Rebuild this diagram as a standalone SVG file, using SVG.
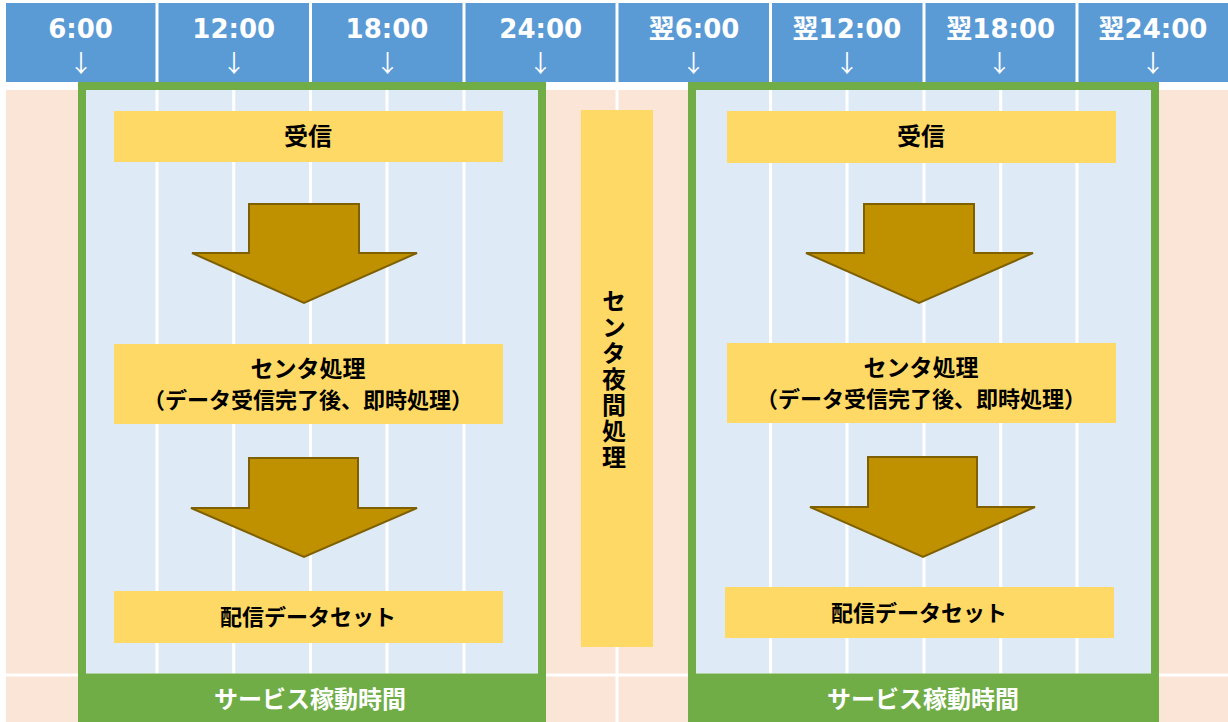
<svg xmlns="http://www.w3.org/2000/svg" width="1228" height="722" viewBox="0 0 1228 722">
<style>
.hdr{font-family:"DejaVu Sans","Noto Sans CJK JP",sans-serif;font-weight:bold;font-size:26px;fill:#fff;text-anchor:middle}
.arr{font-family:"Noto Sans CJK JP","DejaVu Sans",sans-serif;font-size:24px;fill:#fff;text-anchor:middle}
.lbl{font-family:"Noto Sans CJK JP",sans-serif;font-weight:bold;font-size:22px;fill:#000;text-anchor:middle}
.big{font-size:24px}
.mid{font-size:23px}
.band{font-family:"Noto Sans CJK JP",sans-serif;font-weight:bold;font-size:24px;fill:#fff;text-anchor:middle}
.box{fill:#FFD966}
.bigarrow{fill:#BF9000;stroke:#7F6000;stroke-width:2}
.grid{stroke:#fff;stroke-width:3}
.green{fill:#70AD47;fill-rule:evenodd}
</style>
<rect x="0" y="0" width="1228" height="722" fill="#fff"/>
<g id="header">
<rect x="6" y="3" width="1222" height="79" fill="#5B9BD5"/>
<g class="grid">
<line x1="157" y1="3" x2="157" y2="82"/><line x1="310.5" y1="3" x2="310.5" y2="82"/><line x1="464" y1="3" x2="464" y2="82"/><line x1="617" y1="3" x2="617" y2="82"/><line x1="770.5" y1="3" x2="770.5" y2="82"/><line x1="924" y1="3" x2="924" y2="82"/><line x1="1077" y1="3" x2="1077" y2="82"/>
</g>
<text class="hdr" x="80.5" y="38">6:00</text>
<text class="hdr" x="233.7" y="38">12:00</text>
<text class="hdr" x="387" y="38">18:00</text>
<text class="hdr" x="540.7" y="38">24:00</text>
<text class="hdr" x="694" y="38">翌6:00</text>
<text class="hdr" x="847" y="38">翌12:00</text>
<text class="hdr" x="1000.7" y="38">翌18:00</text>
<text class="hdr" x="1153" y="38">翌24:00</text>
<text class="arr" x="81" y="72">↓</text>
<text class="arr" x="234" y="72">↓</text>
<text class="arr" x="387.5" y="72">↓</text>
<text class="arr" x="540.5" y="72">↓</text>
<text class="arr" x="693.5" y="72">↓</text>
<text class="arr" x="847" y="72">↓</text>
<text class="arr" x="999.5" y="72">↓</text>
<text class="arr" x="1153" y="72">↓</text>
</g>
<g id="background">
<rect x="6" y="90" width="1222" height="632" fill="#FBE5D6"/>
<rect x="86" y="90" width="452" height="586" fill="#DEEBF7"/>
<rect x="696" y="90" width="455" height="586" fill="#DEEBF7"/>
<g class="grid">
<line x1="157" y1="90" x2="157" y2="722"/><line x1="233.7" y1="90" x2="233.7" y2="722"/><line x1="310.5" y1="90" x2="310.5" y2="722"/><line x1="387" y1="90" x2="387" y2="722"/><line x1="464" y1="90" x2="464" y2="722"/><line x1="617" y1="90" x2="617" y2="722"/><line x1="770.5" y1="90" x2="770.5" y2="722"/><line x1="847" y1="90" x2="847" y2="722"/><line x1="924" y1="90" x2="924" y2="722"/><line x1="1000.7" y1="90" x2="1000.7" y2="722"/><line x1="1077" y1="90" x2="1077" y2="722"/>
<line x1="6" y1="675" x2="1228" y2="675"/>
</g>
</g>
<g id="service-left">
<path class="green" d="M78 82H546V722H78Z M86 90V673.5H538V90Z"/>
<text class="band" x="310" y="708">サービス稼動時間</text>
</g>
<g id="service-right">
<path class="green" d="M688 82H1159V722H688Z M696 90V673.5H1151V90Z"/>
<text class="band" x="923" y="708">サービス稼動時間</text>
</g>
<g id="recv-left"><rect class="box" x="114" y="111" width="389" height="51"/><text class="lbl big" x="308" y="145">受信</text></g>
<g id="proc-left"><rect class="box" x="114" y="344" width="389" height="80"/><text class="lbl mid" x="308" y="377">センタ処理</text><text class="lbl" x="308" y="408">（データ受信完了後、即時処理）</text></g>
<g id="dist-left"><rect class="box" x="114" y="591" width="389" height="52"/><text class="lbl" x="308" y="625">配信データセット</text></g>
<g id="recv-right"><rect class="box" x="727" y="111" width="389" height="52"/><text class="lbl big" x="921" y="145">受信</text></g>
<g id="proc-right"><rect class="box" x="727" y="343" width="389" height="80"/><text class="lbl mid" x="921" y="376">センタ処理</text><text class="lbl" x="921" y="407">（データ受信完了後、即時処理）</text></g>
<g id="dist-right"><rect class="box" x="725" y="587" width="389" height="51"/><text class="lbl" x="919" y="621">配信データセット</text></g>
<g id="night">
<rect class="box" x="581" y="110" width="72" height="537"/>
<text class="lbl big" x="614" y="380" writing-mode="vertical-rl" letter-spacing="2">センタ夜間処理</text>
</g>
<g id="connectors">
<polygon class="bigarrow" points="249,204 359,204 359,253 417,253 304,303 192,253 249,253"/>
<polygon class="bigarrow" points="249,458 358,458 358,508 417,508 304,557 191,508 249,508"/>
<polygon class="bigarrow" points="864,204 974,204 974,253 1033,253 919,303 806,253 864,253"/>
<polygon class="bigarrow" points="868,457 977,457 977,507 1035,507 923,557 810,507 868,507"/>
</g>
</svg>
